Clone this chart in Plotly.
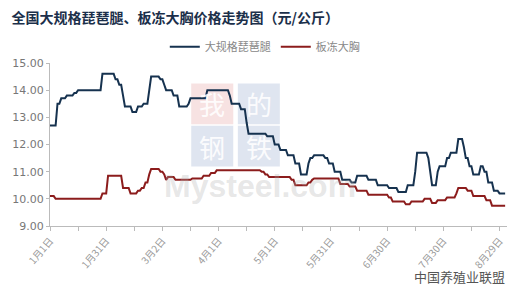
import pandas as pd
import plotly.graph_objects as go

start_date = "2019-01-01"

# 大规格琵琶腿 daily price (元/公斤)
drumstick = [
    12.7,12.7,12.7,12.7,13.5,13.5,13.7,13.7,13.7,13.8,
    13.8,13.8,13.8,13.9,13.9,14.0,14.0,14.0,14.0,14.0,
    14.0,14.0,14.0,14.0,14.0,14.0,14.0,14.0,14.6,14.6,
    14.6,14.6,14.6,14.6,14.6,14.4,14.4,14.2,14.2,13.8,
    13.4,13.4,13.4,13.4,13.2,13.2,13.2,13.4,13.4,13.4,
    13.5,13.5,13.5,14.0,14.5,14.5,14.5,14.5,14.5,14.4,
    14.4,14.2,14.0,14.0,14.0,14.0,13.8,13.8,13.8,13.4,
    13.4,13.4,13.4,13.4,13.5,13.7,13.7,13.7,13.7,13.7,
    13.7,13.7,13.7,13.7,14.0,14.0,14.0,14.0,14.0,14.0,
    14.0,14.0,14.0,14.0,14.0,14.0,13.8,13.5,13.5,13.5,
    13.5,13.5,13.3,13.3,13.3,12.8,12.4,12.4,12.4,12.4,
    12.4,12.4,12.4,12.4,12.4,12.4,12.3,12.3,12.3,12.3,
    12.0,12.0,12.0,11.8,11.8,11.8,11.8,11.6,11.6,11.6,
    11.6,11.3,11.3,11.3,10.9,10.9,10.9,10.9,11.3,11.5,
    11.5,11.6,11.6,11.6,11.6,11.6,11.6,11.5,11.5,11.3,
    11.3,11.3,11.0,11.0,11.0,11.0,10.7,10.7,10.7,10.7,
    10.7,10.6,10.6,10.6,10.85,10.85,10.85,10.85,10.85,10.85,
    10.7,10.7,10.7,10.7,10.7,10.5,10.5,10.5,10.5,10.5,
    10.5,10.4,10.4,10.4,10.4,10.4,10.25,10.25,10.25,10.25,
    10.25,10.5,10.5,10.5,10.5,11.0,11.7,11.7,11.7,11.7,
    11.7,11.7,11.5,11.0,10.5,10.5,10.5,11.0,11.2,11.2,
    11.2,11.2,11.5,11.5,11.7,11.7,11.7,11.7,12.2,12.2,
    12.2,11.9,11.5,11.5,11.2,11.2,10.9,10.9,10.9,10.9,
    11.2,11.2,11.0,11.0,10.6,10.6,10.6,10.3,10.3,10.3,
    10.2,10.2,10.2,10.2,
]

# 板冻大胸 daily price (元/公斤)
breast = [
    10.1,10.1,10.1,10.0,10.0,10.0,10.0,10.0,10.0,10.0,
    10.0,10.0,10.0,10.0,10.0,10.0,10.0,10.0,10.0,10.0,
    10.0,10.0,10.0,10.0,10.0,10.0,10.0,10.0,10.2,10.2,
    10.2,10.85,10.85,10.85,10.85,10.85,10.85,10.85,10.85,10.4,
    10.4,10.4,10.4,10.2,10.2,10.2,10.2,10.3,10.3,10.4,
    10.4,10.6,10.6,10.9,11.1,11.1,11.1,11.1,11.1,11.0,
    11.0,10.9,10.7,10.8,10.8,10.8,10.8,10.7,10.7,10.7,
    10.7,10.7,10.7,10.7,10.7,10.7,10.75,10.75,10.75,10.75,
    10.75,10.75,10.85,10.85,10.85,10.85,10.95,10.95,10.95,11.05,
    11.05,11.05,11.05,11.05,11.05,11.05,11.05,11.05,11.05,11.05,
    11.05,11.05,11.05,11.05,11.05,11.05,11.05,11.05,11.05,11.05,
    11.05,11.05,11.05,11.0,11.0,10.9,10.9,10.8,10.8,10.8,
    10.8,10.8,10.8,10.8,10.8,10.8,10.8,10.8,10.8,10.7,
    10.7,10.5,10.5,10.5,10.5,10.5,10.5,10.5,10.6,10.6,
    10.7,10.75,10.75,10.75,10.75,10.75,10.75,10.75,10.75,10.75,
    10.75,10.75,10.75,10.75,10.75,10.55,10.55,10.55,10.55,10.55,
    10.45,10.45,10.45,10.45,10.3,10.3,10.3,10.3,10.3,10.3,
    10.15,10.15,10.15,10.15,10.15,10.15,10.15,10.15,10.15,10.15,
    10.15,10.05,10.05,9.9,9.9,9.9,9.9,9.9,9.9,9.9,
    9.8,9.8,9.8,9.9,9.9,9.9,9.9,9.9,9.9,9.9,
    10.0,10.0,10.0,10.0,9.85,9.85,9.85,9.95,9.95,9.95,
    9.95,9.95,10.05,10.05,10.05,10.05,10.05,10.2,10.4,10.4,
    10.4,10.4,10.4,10.3,10.3,10.3,10.1,10.1,10.1,10.1,
    10.1,10.1,10.1,9.95,9.95,9.95,9.75,9.75,9.75,9.75,
    9.75,9.75,9.75,9.75,
]

tick_dates = ["2019-01-01", "2019-01-31", "2019-03-02", "2019-04-01", "2019-05-01",
              "2019-05-31", "2019-06-30", "2019-07-30", "2019-08-29"]
tick_labels = ["1月1日", "1月31日", "3月2日", "4月1日", "5月1日",
               "5月31日", "6月30日", "7月30日", "8月29日"]
y_ticks = [9, 10, 11, 12, 13, 14, 15]

dates = pd.date_range(start_date, periods=len(drumstick), freq="D")

fig = go.Figure()

cjk = "Noto Sans CJK SC"

# watermark tiles behind the lines
tiles = [("我", 0.355, 0.75, "rgba(228,150,150,0.28)"),
         ("的", 0.457, 0.75, "rgba(150,170,205,0.30)"),
         ("钢", 0.355, 0.49, "rgba(150,170,205,0.30)"),
         ("铁", 0.457, 0.49, "rgba(150,170,205,0.30)")]
for ch, cx, cy, bg in tiles:
    fig.add_shape(type="rect", xref="paper", yref="paper",
                  x0=cx - 0.046, x1=cx + 0.046, y0=cy - 0.125, y1=cy + 0.125,
                  fillcolor=bg, line=dict(width=0), layer="below")
    fig.add_annotation(x=cx, y=cy, xref="paper", yref="paper", text=ch, showarrow=False,
                       xanchor="center", yanchor="middle",
                       font=dict(family=cjk, size=26, color="rgba(255,255,255,0.9)"))
fig.add_annotation(x=0.46, y=0.245, xref="paper", yref="paper", text="<b>Mysteel.com</b>",
                   xanchor="center", yanchor="middle", showarrow=False,
                   font=dict(family="Arial", size=32, color="rgba(175,175,175,0.30)"))
fig.add_annotation(x=1.0, y=-0.31, xref="paper", yref="paper", yanchor="middle", xanchor="right",
                   text="中国养殖业联盟", showarrow=False,
                   font=dict(family=cjk, size=13, color="#555"))

fig.add_trace(go.Scatter(x=dates, y=drumstick, mode="lines", name="大规格琵琶腿",
                         line=dict(color="#16324f", width=2)))
fig.add_trace(go.Scatter(x=dates, y=breast, mode="lines", name="板冻大胸",
                         line=dict(color="#8c1c1c", width=2)))

fig.update_layout(
    width=522, height=295,
    margin=dict(l=48, r=15, t=63, b=69),
    paper_bgcolor="white", plot_bgcolor="white",
    title=dict(text="<b>全国大规格琵琶腿、板冻大胸价格走势图（元/公斤）</b>",
               x=0.022, xanchor="left", y=0.94, yanchor="middle", xref="container",
               font=dict(family=cjk, size=14, color="#1b2f4a")),
    legend=dict(orientation="h", x=0.47, xanchor="center", y=1.1, yanchor="middle",
                font=dict(family=cjk, size=11, color="#888"), bgcolor="rgba(0,0,0,0)",
                itemwidth=30),
    showlegend=True,
)
fig.update_xaxes(
    range=[dates[0], dates[-1] + pd.Timedelta(days=1)],
    tickmode="array", tickvals=tick_dates, ticktext=tick_labels, tickangle=-50,
    tickfont=dict(family=cjk, size=10, color="#999"),
    showline=True, linecolor="#bbb", linewidth=1, ticks="outside", ticklen=4, tickcolor="#bbb",
    minor=dict(ticks="outside", ticklen=4, tickcolor="#bbb", dtick=15 * 86400000, tick0=start_date),
    showgrid=False, zeroline=False,
)
fig.update_yaxes(
    range=[9, 15], tickvals=y_ticks, tickformat=".2f",
    tickfont=dict(family="DejaVu Sans", size=11, color="#777"),
    showline=True, linecolor="#bbb", linewidth=1, ticks="outside", ticklen=3, tickcolor="#bbb",
    showgrid=False, zeroline=False,
)

fig.write_html("out.html")
